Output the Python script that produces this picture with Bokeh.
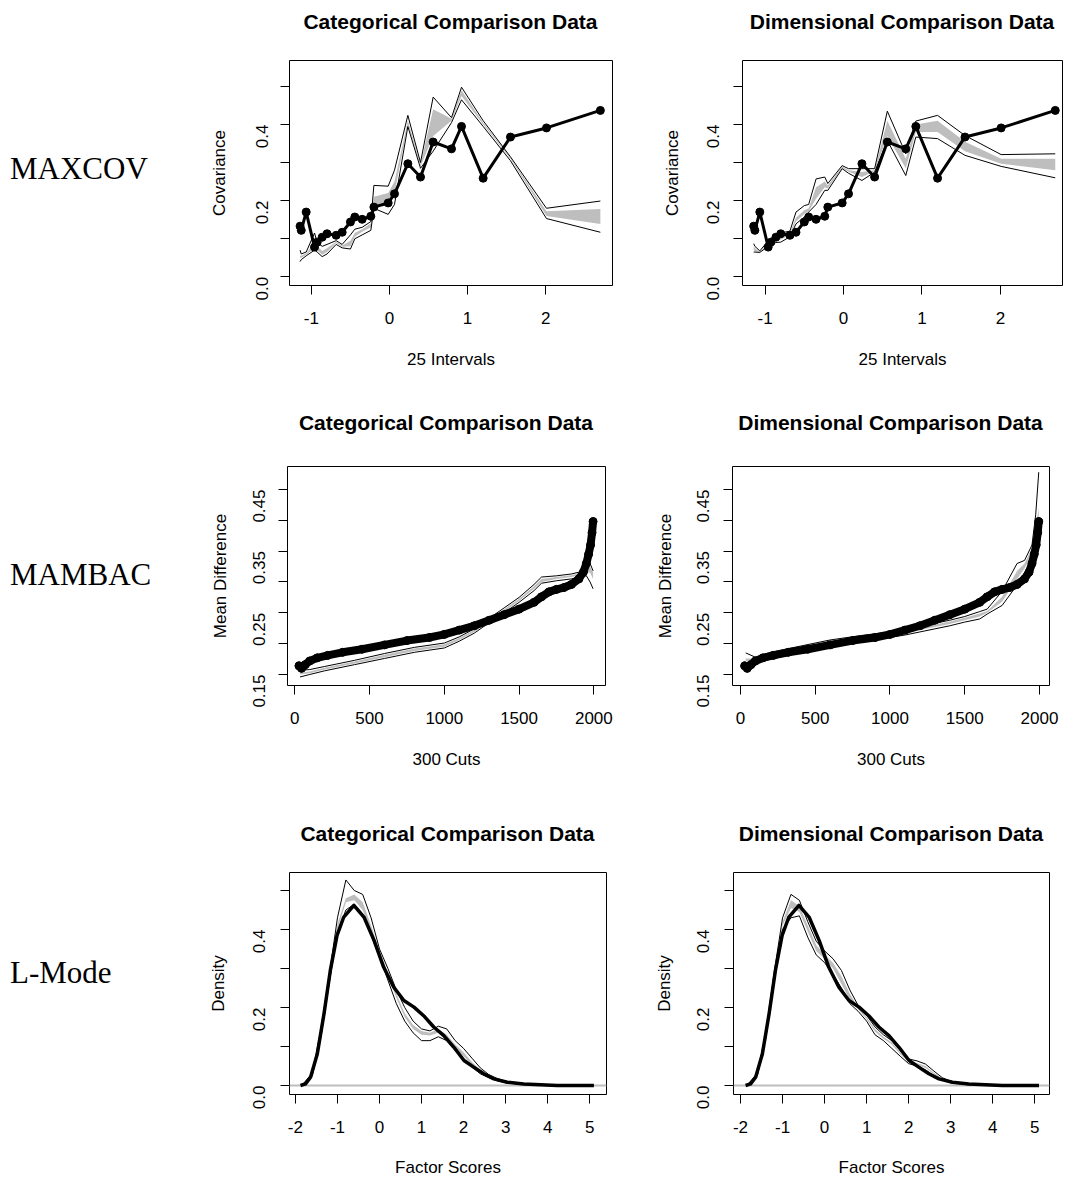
import math
from bokeh.plotting import figure
from bokeh.layouts import row, column
from bokeh.models import Range1d, FixedTicker, NumeralTickFormatter, Span, Div
from bokeh.embed import file_html
from bokeh.resources import INLINE

FONT = "Liberation Sans"
SERIF = "Liberation Serif"
GRAY = "#bebebe"

# ---------------- MAXCOV data (25 intervals) ----------------
maxcov_x = [-1.145, -1.13, -1.067, -0.96, -0.926, -0.862, -0.80, -0.683, -0.606, -0.50,
            -0.444, -0.35, -0.239, -0.20, -0.017, 0.064, 0.235, 0.397, 0.559, 0.794,
            0.922, 1.199, 1.549, 2.01, 2.70]
maxcov_research = [0.133, 0.122, 0.170, 0.078, 0.091, 0.104, 0.113, 0.109, 0.117, 0.144,
                   0.157, 0.151, 0.159, 0.183, 0.194, 0.218, 0.297, 0.262, 0.354, 0.336,
                   0.395, 0.259, 0.367, 0.391, 0.437]
maxcov_cat_max = [0.07, 0.06, 0.065, 0.115, 0.09, 0.08, 0.085, 0.095, 0.085, 0.11,
                  0.125, 0.13, 0.145, 0.24, 0.238, 0.28, 0.424, 0.30, 0.472, 0.418,
                  0.498, 0.41, 0.315, 0.18, 0.199]
maxcov_cat_q3 = [0.055, 0.055, 0.062, 0.09, 0.08, 0.068, 0.075, 0.092, 0.082, 0.095,
                 0.115, 0.125, 0.14, 0.21, 0.22, 0.25, 0.41, 0.295, 0.44, 0.415,
                 0.49, 0.405, 0.313, 0.172, 0.178]
maxcov_cat_q1 = [0.05, 0.05, 0.058, 0.075, 0.07, 0.058, 0.065, 0.089, 0.079, 0.08,
                 0.105, 0.118, 0.13, 0.19, 0.185, 0.22, 0.40, 0.29, 0.37, 0.41,
                 0.475, 0.40, 0.31, 0.16, 0.139]
maxcov_cat_min = [0.04, 0.045, 0.055, 0.07, 0.065, 0.053, 0.06, 0.085, 0.076, 0.073,
                  0.10, 0.11, 0.122, 0.18, 0.164, 0.19, 0.395, 0.285, 0.33, 0.405,
                  0.465, 0.395, 0.305, 0.153, 0.117]
maxcov_dim_max = [0.087, 0.08, 0.068, 0.095, 0.10, 0.11, 0.115, 0.12, 0.17, 0.187,
                  0.19, 0.257, 0.262, 0.245, 0.292, 0.284, 0.284, 0.284, 0.435, 0.323,
                  0.409, 0.424, 0.371, 0.321, 0.323]
maxcov_dim_q3 = [0.08, 0.075, 0.066, 0.09, 0.095, 0.105, 0.108, 0.115, 0.155, 0.175,
                 0.18, 0.235, 0.25, 0.24, 0.29, 0.28, 0.275, 0.28, 0.41, 0.31,
                 0.40, 0.41, 0.355, 0.31, 0.31]
maxcov_dim_q1 = [0.07, 0.068, 0.065, 0.085, 0.09, 0.098, 0.098, 0.11, 0.145, 0.165,
                 0.172, 0.205, 0.235, 0.232, 0.286, 0.276, 0.262, 0.277, 0.37, 0.285,
                 0.38, 0.38, 0.33, 0.297, 0.28]
maxcov_dim_min = [0.065, 0.065, 0.064, 0.08, 0.085, 0.09, 0.091, 0.105, 0.139, 0.157,
                  0.17, 0.19, 0.227, 0.227, 0.284, 0.272, 0.253, 0.275, 0.358, 0.266,
                  0.367, 0.363, 0.319, 0.29, 0.26]

# ---------------- MAMBAC data (300 cuts) ----------------
mambac_research_x = [28, 45, 70, 100, 150, 220, 320, 450, 600, 750, 900, 1000, 1100, 1200,
                     1300, 1400, 1500, 1600, 1650, 1700, 1750, 1800, 1850, 1900, 1930,
                     1950, 1965, 1978, 1988, 1995]
mambac_research_y = [0.164, 0.160, 0.166, 0.172, 0.177, 0.181, 0.186, 0.191, 0.198, 0.205,
                     0.210, 0.215, 0.222, 0.229, 0.238, 0.247, 0.256, 0.267, 0.276, 0.284,
                     0.288, 0.291, 0.296, 0.305, 0.316, 0.33, 0.345, 0.36, 0.38, 0.398]
mambac_cmp_x = [35, 100, 200, 400, 600, 800, 1000, 1100, 1200, 1300, 1400, 1500, 1600,
                1650, 1750, 1850, 1900, 1950, 1975, 1995]
mambac_cat_max = [0.157, 0.158, 0.163, 0.173, 0.184, 0.194, 0.201, 0.211, 0.224, 0.241,
                  0.258, 0.275, 0.296, 0.308, 0.310, 0.313, 0.316, 0.328, 0.33, 0.318]
mambac_cat_q3 = [0.153, 0.155, 0.161, 0.171, 0.182, 0.192, 0.199, 0.209, 0.222, 0.239,
                 0.256, 0.273, 0.293, 0.305, 0.308, 0.311, 0.314, 0.322, 0.325, 0.316]
mambac_cat_q1 = [0.150, 0.152, 0.158, 0.168, 0.178, 0.188, 0.195, 0.206, 0.219, 0.236,
                 0.252, 0.269, 0.289, 0.300, 0.305, 0.308, 0.311, 0.316, 0.315, 0.305]
mambac_cat_min = [0.146, 0.150, 0.156, 0.166, 0.176, 0.186, 0.193, 0.204, 0.217, 0.234,
                  0.250, 0.267, 0.286, 0.298, 0.302, 0.305, 0.308, 0.31, 0.30, 0.289]
mambac_dim_max = [0.185, 0.178, 0.186, 0.196, 0.206, 0.213, 0.219, 0.223, 0.228, 0.233,
                  0.238, 0.244, 0.252, 0.256, 0.285, 0.33, 0.335, 0.36, 0.41, 0.478]
mambac_dim_q3 = [0.176, 0.176, 0.184, 0.193, 0.203, 0.211, 0.217, 0.221, 0.226, 0.231,
                 0.236, 0.242, 0.249, 0.253, 0.276, 0.318, 0.33, 0.355, 0.39, 0.42]
mambac_dim_q1 = [0.172, 0.172, 0.179, 0.188, 0.199, 0.207, 0.213, 0.217, 0.222, 0.227,
                 0.232, 0.238, 0.244, 0.250, 0.268, 0.305, 0.322, 0.345, 0.375, 0.40]
mambac_dim_min = [0.168, 0.168, 0.175, 0.185, 0.196, 0.204, 0.210, 0.214, 0.219, 0.224,
                  0.229, 0.235, 0.240, 0.248, 0.262, 0.295, 0.315, 0.335, 0.365, 0.39]

# ---------------- L-Mode data (factor score densities) ----------------
lmode_research_x = [-1.88, -1.76, -1.64, -1.48, -1.32, -1.17, -1.01, -0.85, -0.61, -0.37,
                    -0.13, 0.10, 0.34, 0.58, 0.82, 1.05, 1.29, 1.53, 1.77, 2.01, 2.24,
                    2.48, 2.72, 3.04, 3.43, 3.83, 4.23, 5.1]
lmode_research_y = [0.0, 0.004, 0.021, 0.081, 0.184, 0.295, 0.385, 0.432, 0.462, 0.432,
                    0.372, 0.303, 0.252, 0.218, 0.201, 0.179, 0.15, 0.128, 0.098, 0.064,
                    0.047, 0.030, 0.017, 0.0085, 0.004, 0.002, 0.0, 0.0]
lmode_cmp_x = [-1.85, -1.6, -1.4, -1.2, -1.0, -0.8, -0.6, -0.4, -0.2, 0.0, 0.2, 0.4, 0.6,
               0.8, 1.0, 1.2, 1.4, 1.6, 1.8, 2.0, 2.2, 2.4, 2.6, 2.8, 3.0, 3.4, 3.8, 4.5, 5.1]
lmode_cat_max = [0, 0.032, 0.14, 0.28, 0.43, 0.527, 0.50, 0.49, 0.43, 0.35, 0.30, 0.245,
                 0.20, 0.165, 0.145, 0.14, 0.152, 0.145, 0.115, 0.095, 0.07, 0.045, 0.028,
                 0.018, 0.011, 0.004, 0.0015, 0, 0]
lmode_cat_q3 = [0, 0.029, 0.135, 0.275, 0.415, 0.48, 0.49, 0.47, 0.41, 0.345, 0.29, 0.235,
                0.185, 0.155, 0.14, 0.135, 0.145, 0.13, 0.105, 0.085, 0.06, 0.04, 0.025,
                0.016, 0.0095, 0.0035, 0.001, 0, 0]
lmode_cat_q1 = [0, 0.026, 0.128, 0.268, 0.40, 0.47, 0.475, 0.45, 0.395, 0.335, 0.28, 0.225,
                0.175, 0.145, 0.13, 0.128, 0.135, 0.12, 0.095, 0.075, 0.052, 0.035, 0.023,
                0.014, 0.0085, 0.003, 0.001, 0, 0]
lmode_cat_min = [0, 0.024, 0.12, 0.26, 0.39, 0.45, 0.465, 0.44, 0.385, 0.33, 0.27, 0.21,
                 0.165, 0.135, 0.115, 0.115, 0.125, 0.115, 0.09, 0.067, 0.047, 0.03, 0.02,
                 0.012, 0.007, 0.0025, 0.0005, 0, 0]
lmode_dim_max = [0, 0.032, 0.135, 0.29, 0.43, 0.49, 0.475, 0.42, 0.37, 0.345, 0.325, 0.295,
                 0.245, 0.205, 0.18, 0.15, 0.13, 0.115, 0.09, 0.068, 0.063, 0.055, 0.037,
                 0.02, 0.011, 0.004, 0.0015, 0, 0]
lmode_dim_q3 = [0, 0.03, 0.13, 0.283, 0.42, 0.475, 0.46, 0.41, 0.36, 0.335, 0.315, 0.28,
                0.235, 0.20, 0.175, 0.145, 0.125, 0.11, 0.085, 0.064, 0.058, 0.05, 0.033,
                0.018, 0.0095, 0.0035, 0.001, 0, 0]
lmode_dim_q1 = [0, 0.027, 0.125, 0.276, 0.41, 0.455, 0.445, 0.395, 0.345, 0.325, 0.30, 0.26,
                0.22, 0.195, 0.17, 0.138, 0.12, 0.105, 0.08, 0.06, 0.054, 0.045, 0.029,
                0.016, 0.0085, 0.003, 0.0008, 0, 0]
lmode_dim_min = [0, 0.025, 0.12, 0.27, 0.40, 0.43, 0.435, 0.38, 0.335, 0.315, 0.285, 0.25,
                 0.21, 0.19, 0.165, 0.13, 0.115, 0.095, 0.075, 0.056, 0.05, 0.04, 0.025,
                 0.015, 0.007, 0.002, 0.0005, 0, 0]

# ---------------- texts / ticks ----------------
row_labels = ["MAXCOV", "MAMBAC", "L-Mode"]
col_titles = ["Categorical Comparison Data", "Dimensional Comparison Data"]
x_titles = ["25 Intervals", "300 Cuts", "Factor Scores"]
y_titles = ["Covariance", "Mean Difference", "Density"]
maxcov_xticks = [-1, 0, 1, 2]
maxcov_yticks = [0.0, 0.2, 0.4]
maxcov_yminor = [0.1, 0.3, 0.5]
mambac_xticks = [0, 500, 1000, 1500, 2000]
mambac_yticks = [0.15, 0.25, 0.35, 0.45]
mambac_yminor = [0.20, 0.30, 0.40]
lmode_xticks = [-2, -1, 0, 1, 2, 3, 4, 5]
lmode_yticks = [0.0, 0.2, 0.4]
lmode_yminor = [0.1, 0.3, 0.5]


def title_div(text, w, h, left, fw, pad_top):
    html = ('<div style="font-family:\'%s\'; font-weight:bold; font-size:21px; '
            'line-height:21px; text-align:center; white-space:nowrap; color:black; '
            'margin-left:%dpx; width:%dpx; padding-top:%dpx;">%s</div>'
            % (FONT, left, fw, pad_top, text))
    return Div(text=html, width=w, height=h, margin=(0, 0, 0, 0))


def label_div(text, w, h, pad_top):
    html = ('<div style="font-family:\'%s\'; font-size:31px; line-height:31px; '
            'white-space:nowrap; color:black; padding-left:10px; padding-top:%dpx;">%s</div>'
            % (SERIF, pad_top, text))
    return Div(text=html, width=w, height=h, margin=(0, 0, 0, 0))


def panel(w, h, bl, br, bt, bb, xr, yr, xt, yt, ym, xf, yf, xlab, ylab,
          ylstand, yastand, xastand):
    p = figure(width=w, height=h, x_range=Range1d(*xr), y_range=Range1d(*yr),
               output_backend="svg", toolbar_location=None,
               min_border_left=bl, min_border_right=br, min_border_top=bt,
               min_border_bottom=bb)
    p.grid.visible = False
    p.outline_line_color = "black"
    p.outline_line_alpha = 1.0
    p.outline_line_width = 1
    for ax in (p.xaxis[0], p.yaxis[0]):
        ax.axis_line_color = None
        ax.major_tick_in = 0
        ax.major_tick_out = 9
        ax.minor_tick_in = 0
        ax.minor_tick_out = 9
        ax.major_tick_line_color = "black"
        ax.minor_tick_line_color = "black"
        ax.major_label_text_font = FONT
        ax.major_label_text_font_size = "17px"
        ax.major_label_text_color = "black"
        ax.axis_label_text_font = FONT
        ax.axis_label_text_font_size = "17px"
        ax.axis_label_text_font_style = "normal"
        ax.axis_label_text_color = "black"
    p.xaxis.ticker = FixedTicker(ticks=xt, minor_ticks=[])
    p.yaxis.ticker = FixedTicker(ticks=yt, minor_ticks=ym)
    p.xaxis.formatter = NumeralTickFormatter(format=xf)
    p.yaxis.formatter = NumeralTickFormatter(format=yf)
    p.xaxis.axis_label = xlab
    p.yaxis.axis_label = ylab
    p.xaxis.major_label_standoff = 17
    p.xaxis.axis_label_standoff = xastand
    p.yaxis.major_label_standoff = ylstand
    p.yaxis.axis_label_standoff = yastand
    p.yaxis.major_label_orientation = math.pi / 2
    return p


def band(p, x, lo, q1, q3, hi):
    p.varea(x=x, y1=q1, y2=q3, fill_color=GRAY, fill_alpha=1.0)
    p.line(x, lo, line_color="black", line_width=1)
    p.line(x, hi, line_color="black", line_width=1)


# column widths: label 190, left panel 440, right panel 433
WL, WA, WB = 190, 440, 433

# ---------------- Row 1: MAXCOV ----------------
T1, P1H = 40, 360
t1 = title_div(col_titles[0], WA, T1, 99, 323, 11)
p1 = panel(WA, P1H, 99, 18, 20, 115, (-1.2804, 2.8553), (-0.02285, 0.5681),
           maxcov_xticks, maxcov_yticks, maxcov_yminor, "0", "0.0", x_titles[0], y_titles[0],
           ylstand=18, yastand=19, xastand=23)
band(p1, maxcov_x, maxcov_cat_min, maxcov_cat_q1, maxcov_cat_q3, maxcov_cat_max)
p1.line(maxcov_x, maxcov_research, line_color="black", line_width=3)
p1.scatter(maxcov_x, maxcov_research, size=8, marker="circle", color="black")

t2 = title_div(col_titles[1], WB, T1, 112, 320, 11)
p2 = panel(WB, P1H, 112, 1, 20, 115, (-1.2878, 2.7923), (-0.02285, 0.5681),
           maxcov_xticks, maxcov_yticks, maxcov_yminor, "0", "0.0", x_titles[0], y_titles[0],
           ylstand=20, yastand=17, xastand=23)
band(p2, maxcov_x, maxcov_dim_min, maxcov_dim_q1, maxcov_dim_q3, maxcov_dim_max)
p2.line(maxcov_x, maxcov_research, line_color="black", line_width=3)
p2.scatter(maxcov_x, maxcov_research, size=8, marker="circle", color="black")

# ---------------- Row 2: MAMBAC ----------------
T2, P2H = 46, 359
t3 = title_div(col_titles[0], WA, T2, 97, 318, 12)
p3 = panel(WA, P2H, 97, 25, 20, 120, (-48.8, 2078), (0.13216, 0.48728),
           mambac_xticks, mambac_yticks, mambac_yminor, "0", "0.00", x_titles[1], y_titles[1],
           ylstand=19, yastand=15, xastand=23)
band(p3, mambac_cmp_x, mambac_cat_min, mambac_cat_q1, mambac_cat_q3, mambac_cat_max)
p3.line(mambac_research_x, mambac_research_y, line_color="black", line_width=8,
        line_cap="round", line_join="round")
p3.scatter(mambac_research_x, mambac_research_y, size=8, marker="circle", color="black")

t4 = title_div(col_titles[1], WB, T2, 102, 317, 12)
p4 = panel(WB, P2H, 102, 14, 20, 120, (-53.5, 2067), (0.13216, 0.48728),
           mambac_xticks, mambac_yticks, mambac_yminor, "0", "0.00", x_titles[1], y_titles[1],
           ylstand=20, yastand=14, xastand=23)
band(p4, mambac_cmp_x, mambac_dim_min, mambac_dim_q1, mambac_dim_q3, mambac_dim_max)
p4.line(mambac_research_x, mambac_research_y, line_color="black", line_width=8,
        line_cap="round", line_join="round")
p4.scatter(mambac_research_x, mambac_research_y, size=8, marker="circle", color="black")

# ---------------- Row 3: L-Mode ----------------
T3, P3H = 47, 327
t5 = title_div(col_titles[0], WA, T3, 99, 317, 18)
p5 = panel(WA, P3H, 99, 24, 20, 85, (-2.141, 5.400), (-0.02308, 0.54615),
           lmode_xticks, lmode_yticks, lmode_yminor, "0", "0.0", x_titles[2], y_titles[2],
           ylstand=21, yastand=17, xastand=22)
p5.add_layout(Span(location=0, dimension="width", line_color=GRAY, line_width=2,
                   level="underlay"))
band(p5, lmode_cmp_x, lmode_cat_min, lmode_cat_q1, lmode_cat_q3, lmode_cat_max)
p5.line(lmode_research_x, lmode_research_y, line_color="black", line_width=3.5,
        line_join="round")

t6 = title_div(col_titles[1], WB, T3, 103, 316, 18)
p6 = panel(WB, P3H, 103, 14, 20, 85, (-2.167, 5.350), (-0.02308, 0.54615),
           lmode_xticks, lmode_yticks, lmode_yminor, "0", "0.0", x_titles[2], y_titles[2],
           ylstand=21, yastand=15, xastand=22)
p6.add_layout(Span(location=0, dimension="width", line_color=GRAY, line_width=2,
                   level="underlay"))
band(p6, lmode_cmp_x, lmode_dim_min, lmode_dim_q1, lmode_dim_q3, lmode_dim_max)
p6.line(lmode_research_x, lmode_research_y, line_color="black", line_width=3.5,
        line_join="round")

l1 = label_div(row_labels[0], WL, T1 + P1H, 153)
l2 = label_div(row_labels[1], WL, T2 + P2H, 159)
l3 = label_div(row_labels[2], WL, T3 + P3H, 152)

layout = column(
    row(l1, column(t1, p1), column(t2, p2)),
    row(l2, column(t3, p3), column(t4, p4)),
    row(l3, column(t5, p5), column(t6, p6)),
)

open("out.html", "w").write(file_html(layout, INLINE))
